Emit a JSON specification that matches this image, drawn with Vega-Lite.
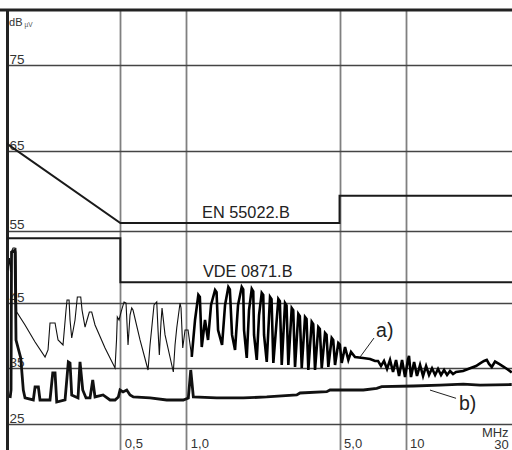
{
  "$schema": "https://vega.github.io/schema/vega-lite/v6.json",
  "width": 505,
  "height": 440,
  "autosize": {"type": "none"},
  "padding": {"left": 7, "top": 10, "right": 0, "bottom": 0},
  "background": "white",
  "config": {"view": {"stroke": null}, "font": "Liberation Sans"},
  "datasets": {
    "curveA": [
      {"f": 0.1537, "v": 49.7}, {"f": 0.1561, "v": 51.35}, {"f": 0.1578, "v": 49.43}, {"f": 0.1603, "v": 52.43},
      {"f": 0.162, "v": 52.7}, {"f": 0.1654, "v": 52.7}, {"f": 0.1671, "v": 52.16}, {"f": 0.1684, "v": 43.72},
      {"f": 0.1837, "v": 41.79}, {"f": 0.2041, "v": 39.19}, {"f": 0.2267, "v": 36.82}, {"f": 0.2339, "v": 37.94},
      {"f": 0.2388, "v": 42.09}, {"f": 0.2518, "v": 42.09}, {"f": 0.2599, "v": 39.5}, {"f": 0.2738, "v": 38.72},
      {"f": 0.2826, "v": 44.01}, {"f": 0.2856, "v": 45.48}, {"f": 0.2917, "v": 45.48}, {"f": 0.2947, "v": 42.54},
      {"f": 0.3, "v": 39.81}, {"f": 0.3106, "v": 42.54}, {"f": 0.3182, "v": 45.91}, {"f": 0.3298, "v": 45.91},
      {"f": 0.3344, "v": 44.01}, {"f": 0.3451, "v": 41.48}, {"f": 0.3524, "v": 42.54}, {"f": 0.361, "v": 43.72},
      {"f": 0.3701, "v": 43.72}, {"f": 0.3832, "v": 41.79}, {"f": 0.4257, "v": 38.25}, {"f": 0.4728, "v": 35.03},
      {"f": 0.4803, "v": 39.5}, {"f": 0.4843, "v": 42.99}, {"f": 0.4932, "v": 42.54}, {"f": 0.5036, "v": 43.72},
      {"f": 0.5197, "v": 45.19}, {"f": 0.5307, "v": 45.04}, {"f": 0.542, "v": 38.72}, {"f": 0.5535, "v": 43.28},
      {"f": 0.5634, "v": 44.31}, {"f": 0.5711, "v": 44.01}, {"f": 0.6148, "v": 39.5}, {"f": 0.6687, "v": 34.7},
      {"f": 0.6829, "v": 38.72}, {"f": 0.6953, "v": 41.33}, {"f": 0.7122, "v": 44.75}, {"f": 0.7328, "v": 45.19},
      {"f": 0.7428, "v": 41.03}, {"f": 0.753, "v": 37.14}, {"f": 0.7666, "v": 42.24}, {"f": 0.7747, "v": 44.31},
      {"f": 0.7996, "v": 40.28}, {"f": 0.8723, "v": 34.37}, {"f": 0.888, "v": 38.72}, {"f": 0.9041, "v": 41.33},
      {"f": 0.936, "v": 45.04}, {"f": 0.9458, "v": 44.31}, {"f": 0.9629, "v": 38.25}, {"f": 0.9865, "v": 41.03},
      {"f": 1.0181, "v": 41.03}, {"f": 1.0584, "v": 36.82}, {"f": 1.0957, "v": 42.54}, {"f": 1.1344, "v": 46.2},
      {"f": 1.1525, "v": 45.9},
      {"f": 1.1757, "v": 38.41}, {"f": 1.2168, "v": 42.54}, {"f": 1.2561, "v": 39.5}, {"f": 1.2963, "v": 44.75},
      {"f": 1.3522, "v": 46.91}, {"f": 1.3737, "v": 46.6}, {"f": 1.3956, "v": 41.03}, {"f": 1.4554, "v": 38.72}, {"f": 1.502, "v": 44.75},
      {"f": 1.5548, "v": 47.34}, {"f": 1.5795, "v": 47.0}, {"f": 1.6163, "v": 40.28}, {"f": 1.6681, "v": 37.94}, {"f": 1.7215, "v": 44.75},
      {"f": 1.7893, "v": 47.34}, {"f": 1.8178, "v": 47.0}, {"f": 1.8331, "v": 41.03}, {"f": 1.8863, "v": 36.66}, {"f": 1.932, "v": 44.01},
      {"f": 1.988, "v": 47.06}, {"f": 2.0196, "v": 46.7}, {"f": 2.0363, "v": 40.28}, {"f": 2.0953, "v": 36.34}, {"f": 2.1466, "v": 43.28},
      {"f": 2.208, "v": 46.49}, {"f": 2.2431, "v": 46.2}, {"f": 2.262, "v": 40.28}, {"f": 2.327, "v": 36.02}, {"f": 2.409, "v": 45.91},
      {"f": 2.4473, "v": 45.6},
      {"f": 2.4942, "v": 35.85}, {"f": 2.6286, "v": 45.62}, {"f": 2.6704, "v": 45.3}, {"f": 2.724, "v": 35.52}, {"f": 2.8203, "v": 45.04},
      {"f": 2.8651, "v": 44.7},
      {"f": 2.9196, "v": 35.52}, {"f": 3.0255, "v": 44.31}, {"f": 3.0736, "v": 44.0}, {"f": 3.1325, "v": 35.2}, {"f": 3.2428, "v": 43.43},
      {"f": 3.2944, "v": 43.1},
      {"f": 3.3612, "v": 35.03}, {"f": 3.4793, "v": 42.99}, {"f": 3.5346, "v": 42.7}, {"f": 3.6022, "v": 34.7}, {"f": 3.733, "v": 42.24},
      {"f": 3.7924, "v": 41.9},
      {"f": 3.8644, "v": 34.7}, {"f": 4.0009, "v": 41.48}, {"f": 4.0645, "v": 41.2}, {"f": 4.1463, "v": 35.03}, {"f": 4.293, "v": 40.58},
      {"f": 4.3613, "v": 40.3},
      {"f": 4.444, "v": 35.2}, {"f": 4.6054, "v": 39.81}, {"f": 4.6786, "v": 39.5}, {"f": 4.7684, "v": 35.52}, {"f": 4.9357, "v": 39.03},
      {"f": 5.0142, "v": 38.8},
      {"f": 5.115, "v": 35.85}, {"f": 5.2966, "v": 38.41}, {"f": 5.483, "v": 36.34}, {"f": 5.6412, "v": 37.62},
      {"f": 5.8829, "v": 36.82}, {"f": 6.3992, "v": 36.66}, {"f": 6.8883, "v": 36.5}, {"f": 7.2595, "v": 36.18},
      {"f": 7.489, "v": 36.18}, {"f": 7.729, "v": 35.36}, {"f": 7.977, "v": 36.18}, {"f": 8.233, "v": 34.87},
      {"f": 8.498, "v": 36.34}, {"f": 8.77, "v": 34.37}, {"f": 9.052, "v": 36.34}, {"f": 9.342, "v": 33.7},
      {"f": 9.641, "v": 36.34}, {"f": 9.948, "v": 33.53}, {"f": 10.27, "v": 36.5}, {"f": 10.37, "v": 36.98},
      {"f": 10.59, "v": 33.53}, {"f": 10.94, "v": 36.02}, {"f": 11.28, "v": 33.7}, {"f": 11.65, "v": 35.52},
      {"f": 12.02, "v": 33.7}, {"f": 12.41, "v": 35.36}, {"f": 12.8, "v": 33.87}, {"f": 13.21, "v": 34.98},
      {"f": 13.64, "v": 33.87}, {"f": 14.07, "v": 34.87}, {"f": 14.52, "v": 33.87}, {"f": 14.99, "v": 34.7},
      {"f": 15.47, "v": 33.87}, {"f": 15.96, "v": 34.53}, {"f": 16.47, "v": 34.03}, {"f": 17.0, "v": 34.37},
      {"f": 18.3, "v": 34.53}, {"f": 19.7, "v": 34.98}, {"f": 20.97, "v": 35.36}, {"f": 21.88, "v": 35.8},
      {"f": 22.81, "v": 36.18}, {"f": 23.47, "v": 36.34}, {"f": 24.04, "v": 35.69}, {"f": 24.74, "v": 35.2},
      {"f": 25.61, "v": 36.08}, {"f": 26.71, "v": 35.69}, {"f": 27.94, "v": 35.25}, {"f": 29.05, "v": 34.87},
      {"f": 30.51, "v": 34.28}
    ]
  },
  "encoding": {
    "x": {
      "field": "f", "type": "quantitative",
      "scale": {"type": "log", "domain": [0.152, 30.6], "nice": false},
      "axis": {
        "orient": "bottom", "title": null, "values": [0.5, 1, 5, 10, 30],
        "grid": true, "gridColor": "#808080", "gridWidth": 1.8,
        "gridOpacity": {"condition": {"test": "datum.value == 30", "value": 0}, "value": 1},
        "domain": false, "ticks": false, "tickSize": 0,
        "labelExpr": "datum.value == 0.5 ? '0,5' : datum.value == 1 ? '1,0' : datum.value == 5 ? '5,0' : datum.value == 10 ? '10' : ['MHz', '30']",
        "labelAlign": {"condition": {"test": "datum.value == 30", "value": "right"}, "value": "left"},
        "labelOffset": {"condition": {"test": "datum.value == 30", "value": -2}, "value": 4},
        "labelBaseline": "alphabetic",
        "labelPadding": {"condition": {"test": "datum.value == 30", "value": -13.5}, "value": -2.5},
        "labelLineHeight": 11.5, "labelFontSize": 13, "labelColor": "#333333",
        "labelFont": "Liberation Sans", "labelFlush": false, "labelOverlap": false, "labelBound": false
      }
    },
    "y": {
      "field": "v", "type": "quantitative",
      "scale": {"type": "pow", "exponent": 1.5, "domain": [19.72, 81.09], "nice": false, "zero": false},
      "axis": {
        "orient": "left", "title": null, "values": [25, 35, 45, 55, 65, 75],
        "grid": true, "gridColor": "#444444", "gridWidth": 1.5,
        "domain": true, "domainColor": "#222222", "domainWidth": 3,
        "ticks": false, "tickSize": 0,
        "labelAlign": "left", "labelPadding": -2, "labelBaseline": "alphabetic", "labelOffset": -2,
        "labelFontSize": 13.5, "labelColor": "#333333", "labelFont": "Liberation Sans",
        "labelFlush": false, "labelOverlap": false, "labelBound": false
      }
    }
  },
  "layer": [
    {
      "data": {"values": [{"f": 0.1, "f2": 40, "v": 81.09}]},
      "mark": {"type": "rule", "color": "#222222", "strokeWidth": 3},
      "encoding": {"x2": {"field": "f2"}}
    },
    {
      "data": {"values": [
        {"s": "EN", "i": 1, "f": 0.15, "v": 66},
        {"s": "EN", "i": 2, "f": 0.5, "v": 56},
        {"s": "EN", "i": 3, "f": 5, "v": 56},
        {"s": "EN", "i": 4, "f": 5, "v": 59.5},
        {"s": "EN", "i": 5, "f": 31, "v": 59.5},
        {"s": "VDE", "i": 1, "f": 0.15, "v": 54},
        {"s": "VDE", "i": 2, "f": 0.5, "v": 54},
        {"s": "VDE", "i": 3, "f": 0.5, "v": 48},
        {"s": "VDE", "i": 4, "f": 31, "v": 48}
      ]},
      "mark": {"type": "line", "color": "#1a1a1a", "strokeWidth": 2, "clip": true},
      "encoding": {"detail": {"field": "s"}, "order": {"field": "i", "type": "quantitative"}}
    },
    {
      "data": {"name": "curveA"},
      "transform": [{"filter": "datum.f <= 1.06"}],
      "mark": {"type": "line", "color": "#111111", "strokeWidth": 1.1, "clip": true}
    },
    {
      "data": {"name": "curveA"},
      "transform": [{"filter": "datum.f >= 1.058"}],
      "mark": {"type": "line", "color": "#000000", "strokeWidth": 2.6, "clip": true}
    },
    {
      "data": {"values": [
        {"f": 0.157, "v": 29.91}, {"f": 0.1586, "v": 31.31}, {"f": 0.1594, "v": 52.16}, {"f": 0.1654, "v": 52.43},
        {"f": 0.1671, "v": 39.5}, {"f": 0.1756, "v": 36.66}, {"f": 0.1804, "v": 31.31}, {"f": 0.1837, "v": 29.91},
        {"f": 0.2004, "v": 29.55}, {"f": 0.2041, "v": 31.83}, {"f": 0.2113, "v": 31.83}, {"f": 0.215, "v": 29.55},
        {"f": 0.2388, "v": 29.55}, {"f": 0.2458, "v": 34.2}, {"f": 0.2518, "v": 34.2}, {"f": 0.2563, "v": 29.18},
        {"f": 0.2797, "v": 29.55}, {"f": 0.2895, "v": 36.02}, {"f": 0.2947, "v": 35.85}, {"f": 0.3, "v": 30.44},
        {"f": 0.3205, "v": 29.91}, {"f": 0.3273, "v": 36.02}, {"f": 0.3368, "v": 31.31}, {"f": 0.3487, "v": 29.91},
        {"f": 0.3636, "v": 29.91}, {"f": 0.3741, "v": 33.03}, {"f": 0.3832, "v": 30.09}, {"f": 0.4169, "v": 30.44},
        {"f": 0.4486, "v": 29.55}, {"f": 0.4728, "v": 29.55}, {"f": 0.4896, "v": 30.09}, {"f": 0.4983, "v": 31.31},
        {"f": 0.5143, "v": 30.97}, {"f": 0.5347, "v": 31.31}, {"f": 0.5535, "v": 30.44}, {"f": 0.573, "v": 30.09},
        {"f": 0.6829, "v": 29.91}, {"f": 0.8137, "v": 29.55}, {"f": 0.9689, "v": 29.55}, {"f": 1.0212, "v": 29.91},
        {"f": 1.0473, "v": 34.7}, {"f": 1.0763, "v": 30.09}, {"f": 1.376, "v": 29.91}, {"f": 1.8197, "v": 29.91},
        {"f": 2.327, "v": 30.09}, {"f": 3.1889, "v": 30.44}, {"f": 3.302, "v": 30.79}, {"f": 4.3701, "v": 31.02},
        {"f": 4.525, "v": 31.31}, {"f": 5.582, "v": 31.31}, {"f": 6.4197, "v": 31.31}, {"f": 7.3894, "v": 31.6},
        {"f": 7.7875, "v": 31.88}, {"f": 10.853, "v": 32.0}, {"f": 14.37, "v": 32.17}, {"f": 18.35, "v": 32.34},
        {"f": 21.88, "v": 32.17}, {"f": 30.51, "v": 32.26}
      ]},
      "mark": {"type": "line", "color": "#111111", "strokeWidth": 2.8, "clip": true}
    },
    {
      "data": {"values": [
        {"f": 6.2, "v": 36.8, "f2": 7.18, "v2": 39.8},
        {"f": 12.93, "v": 31.3, "f2": 17.0, "v2": 29.85}
      ]},
      "mark": {"type": "rule", "color": "#222222", "strokeWidth": 1},
      "encoding": {"x2": {"field": "f2"}, "y2": {"field": "v2"}}
    },
    {
      "data": {"values": [
        {"f": 1.18, "v": 56.7, "t": "EN 55022.B"},
        {"f": 1.19, "v": 48.76, "t": "VDE 0871.B"}
      ]},
      "mark": {"type": "text", "align": "left", "baseline": "alphabetic", "fontSize": 16.3, "color": "#222222", "font": "Liberation Sans"},
      "encoding": {"text": {"field": "t"}}
    },
    {
      "data": {"values": [
        {"f": 7.34, "v": 39.96, "t": "a)"},
        {"f": 17.54, "v": 27.73, "t": "b)"}
      ]},
      "mark": {"type": "text", "align": "left", "baseline": "alphabetic", "fontSize": 19.5, "color": "#222222", "font": "Liberation Sans"},
      "encoding": {"text": {"field": "t"}}
    },
    {
      "data": {"values": [{"f": 0.1553, "v": 79.35, "t": "dB"}]},
      "mark": {"type": "text", "align": "left", "baseline": "alphabetic", "fontSize": 11, "color": "#333333", "font": "Liberation Sans"},
      "encoding": {"text": {"field": "t"}}
    },
    {
      "data": {"values": [{"f": 0.1825, "v": 79.24, "t": "µV"}]},
      "mark": {"type": "text", "align": "left", "baseline": "alphabetic", "fontSize": 6.5, "color": "#555555", "font": "Liberation Sans"},
      "encoding": {"text": {"field": "t"}}
    }
  ]
}
